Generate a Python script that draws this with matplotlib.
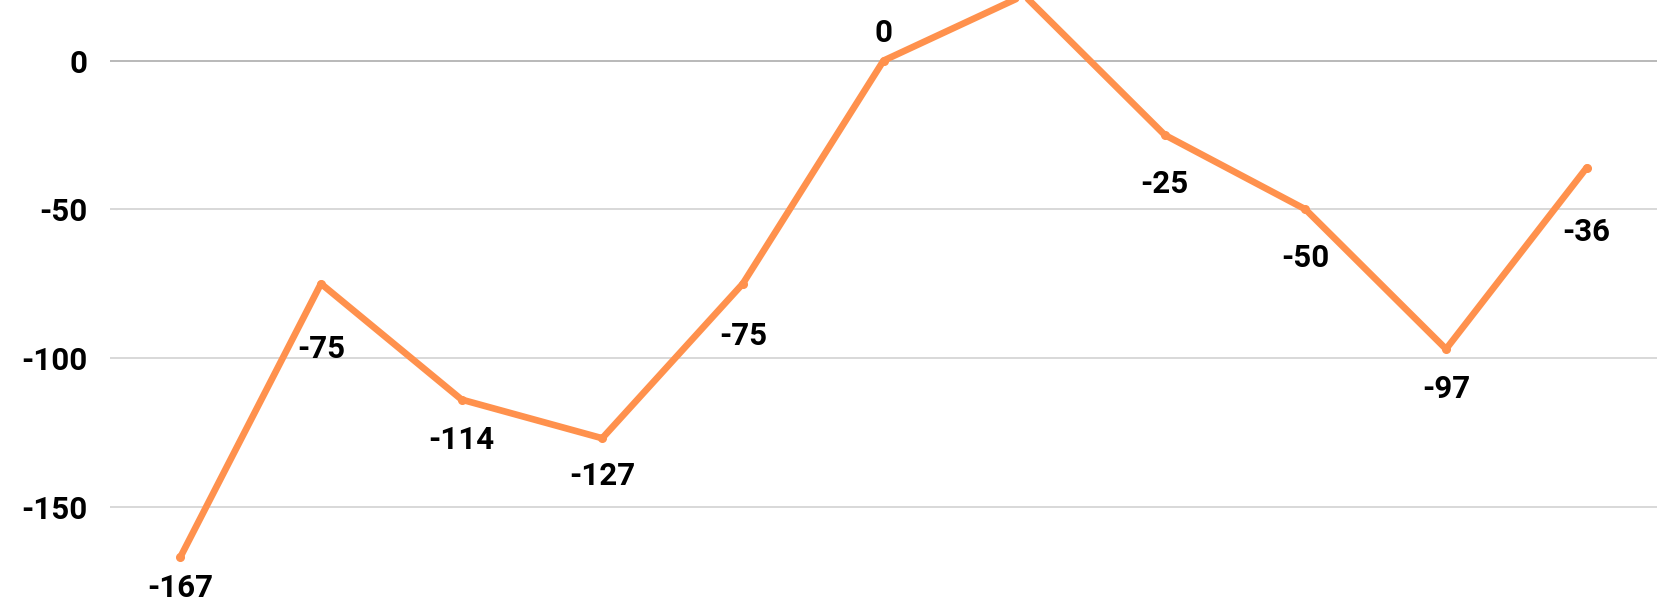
import numpy as np
import matplotlib.pyplot as plt

# valores
x = np.arange(11)
values = [-167, -75, -114, -127, -75, 0, 22, -25, -50, -97, -36]
yticks = [0, -50, -100, -150]

# deslocamento dos rótulos (pontos), só estilo
label_dy = [-22, -47, -29, -27, -38, 20, 20, -35, -35, -29, -46]

plt.rcParams['font.family'] = ['Roboto', 'DejaVu Sans']

fig = plt.figure(figsize=(16.8, 6), dpi=100)
ax = fig.add_axes([110 / 1680, 0, 1547 / 1680, 1])

ax.plot(x, values, color='#FF914D', lw=4.8, solid_capstyle='round',
        solid_joinstyle='round', marker='o', markersize=5.5, zorder=3)

ytop = 20.4
for xi, v, dy in zip(x, values, label_dy):
    if v > ytop - 5:
        continue  # rótulo fica fora da figura no original
    ax.annotate(f'{v}', (xi, v), xytext=(0, dy), textcoords='offset points',
                ha='center', va='center', fontsize=22.5, fontweight='bold',
                color='black', annotation_clip=False)

ax.set_xlim(-0.5, 10.5)
ax.set_ylim(-181.4, ytop)
ax.set_yticks(yticks)
ax.set_yticklabels([str(t) for t in yticks], fontsize=22.5, fontweight='bold')
ax.tick_params(axis='y', length=0, pad=16)
ax.set_xticks([])
for t in yticks:
    ax.axhline(t, color='#b3b3b3' if t == 0 else '#d6d6d6', lw=1.3, zorder=1)
for s in ax.spines.values():
    s.set_visible(False)

plt.savefig('out.png')
